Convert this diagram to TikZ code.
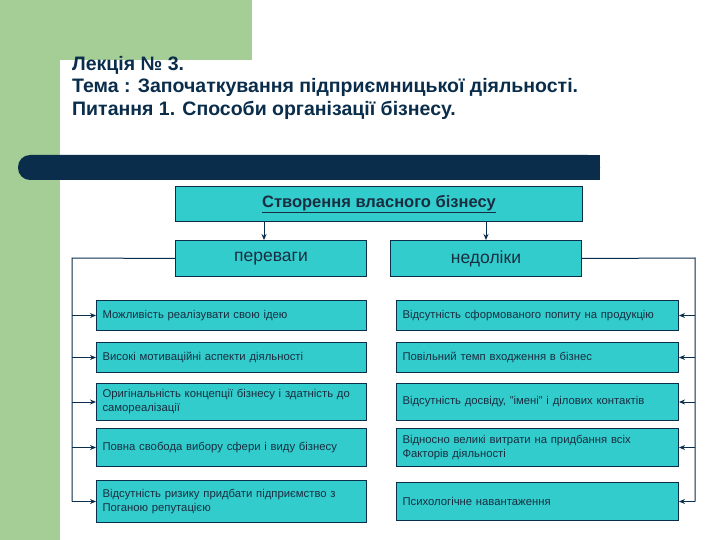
\documentclass[tikz,border=0pt]{standalone}
\usepackage{fontspec}
\setmainfont{Liberation Sans}
\usetikzlibrary{arrows.meta}
\definecolor{grn}{RGB}{165,205,150}
\definecolor{navy}{RGB}{10,45,75}
\definecolor{teal1}{RGB}{51,204,204}
\definecolor{txt}{RGB}{25,45,65}
\begin{document}
\begin{tikzpicture}[x=1pt,y=-1pt,
  box/.style={draw=navy,line width=1pt,fill=teal1,inner sep=4pt},
  item/.style={box,minimum height=30pt,font=\fontsize{11.3}{14}\selectfont,text=txt,align=left,anchor=north west,text width=#1,inner xsep=6pt},
  head/.style={box,minimum width=191pt,minimum height=36pt,font=\fontsize{17.5}{20}\selectfont,text=txt,anchor=north west},
  conn/.style={draw=navy,line width=1pt},
  arr/.style={conn,-{Stealth[length=6pt,width=5pt]}}]
\useasboundingbox (0,0) rectangle (720,540);
\fill[white] (0,0) rectangle (720,540);
\fill[grn] (0,0) rectangle (60,540);
\fill[grn] (0,0) rectangle (252,60);
\fill[navy,rounded corners=12pt] (18,155) rectangle (600,180);
\fill[navy] (300,155) rectangle (600,180);
\node[anchor=north west,align=left,text=navy,font=\bfseries\fontsize{19.5}{22.5}\selectfont,inner sep=0pt] (title) at (72,56)
 {Лекція № 3.\\Тема : Започаткування підприємницької діяльності.\\Питання 1. Способи організації бізнесу.};
\node[box,anchor=north west,minimum width=407pt,minimum height=35pt,font=\bfseries\fontsize{16.5}{19}\selectfont,text=txt] (top) at (175,186) {\underline{Створення власного бізнесу}};
\node[head] (adv) at (175,240) {переваги};
\node[head] (dis) at (390,240) {недоліки};
\draw[arr] (top.south -| 264,0) -- (adv.north -| 264,0);
\draw[arr] (top.south -| 486,0) -- (dis.north -| 486,0);
\node[item=258pt] (l1) at (96,300) {Можливість реалізувати свою ідею};
\node[item=258pt] (l2) at (96,342) {Високі мотиваційні аспекти діяльності};
\node[item=258pt,minimum height=37pt] (l3) at (96,383) {Оригінальність концепції бізнесу і здатність до\\самореалізації};
\node[item=258pt,minimum height=38pt] (l4) at (96,428) {Повна свобода вибору сфери і виду бізнесу};
\node[item=258pt,minimum height=42pt] (l5) at (96,480) {Відсутність ризику придбати підприємство з\\Поганою репутацією};
\node[item=270pt] (r1) at (396,300) {Відсутність сформованого попиту на продукцію};
\node[item=270pt] (r2) at (396,342) {Повільний темп входження в бізнес};
\node[item=270pt,minimum height=37pt] (r3) at (396,383) {Відсутність досвіду, "імені" і ділових контактів};
\node[item=270pt,minimum height=38pt] (r4) at (396,428) {Відносно великі витрати на придбання всіх\\Факторів діяльності};
\node[item=270pt,minimum height=38pt] (r5) at (396,482) {Психологічне навантаження};
\coordinate (lc) at (72,258);
\coordinate (rc) at (695,258);
\draw[conn] (adv.west) -- (lc) -- (lc |- l5.west);
\draw[conn] (dis.east) -- (rc) -- (rc |- r5.east);
\foreach \n in {l1,l2,l3,l4,l5} \draw[arr] (lc |- \n.west) -- (\n.west);
\foreach \n in {r1,r2,r3,r4,r5} \draw[arr] (rc |- \n.east) -- (\n.east);
\end{tikzpicture}
\end{document}
